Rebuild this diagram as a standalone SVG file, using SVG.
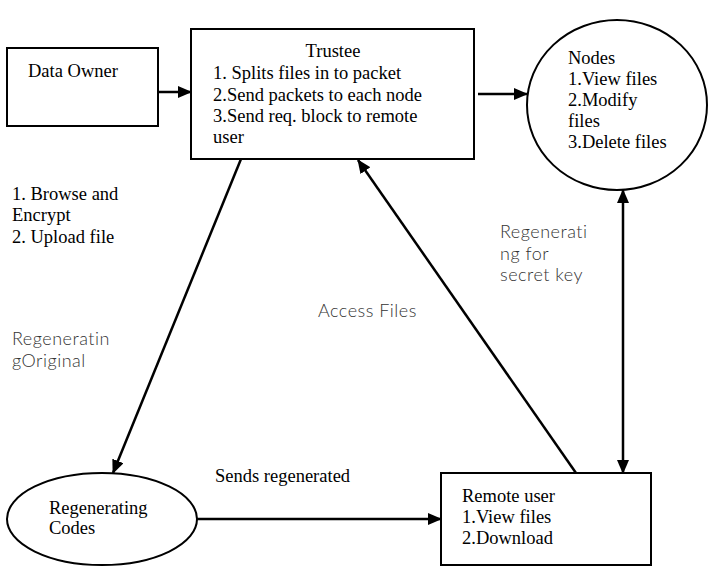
<svg xmlns="http://www.w3.org/2000/svg" width="710" height="568" viewBox="0 0 710 568">
<style>
.box{fill:#fff;stroke:#000;stroke-width:2}
.t{font-family:"Liberation Serif","Times New Roman",serif;font-size:18.5px;fill:#000}
.s{font-family:Lato,"Liberation Sans",sans-serif;font-weight:300;font-size:18px;letter-spacing:0.5px;fill:#333}
.c{stroke:#000;stroke-width:2.5;fill:none}
</style>
<defs>
<marker id="ah" markerUnits="userSpaceOnUse" markerWidth="14" markerHeight="12" refX="13" refY="6" orient="auto-start-reverse">
<path d="M0,0 L14,6 L0,12 z" fill="#000"/>
</marker>
</defs>
<rect width="710" height="568" fill="#fff"/>
<g id="connectors">
<line class="c" x1="158" y1="92" x2="191" y2="92" marker-end="url(#ah)"/>
<line class="c" x1="478" y1="94" x2="527" y2="94" marker-end="url(#ah)"/>
<line class="c" x1="241" y1="159" x2="113" y2="473" marker-end="url(#ah)"/>
<line class="c" x1="576" y1="473" x2="358" y2="160" marker-end="url(#ah)"/>
<line class="c" x1="623" y1="190" x2="623" y2="473" marker-start="url(#ah)" marker-end="url(#ah)"/>
<line class="c" x1="190" y1="519" x2="441" y2="519" marker-end="url(#ah)"/>
</g>
<g id="data-owner">
<rect class="box" x="7" y="48" width="151" height="78"/>
<text class="t" x="28" y="77">Data Owner</text>
</g>
<g id="trustee">
<rect class="box" x="191" y="29" width="283" height="130"/>
<text class="t" x="333" y="57" text-anchor="middle">Trustee</text>
<text class="t" x="213" y="79">1. Splits files in to packet</text>
<text class="t" x="213" y="101">2.Send packets to each node</text>
<text class="t" x="213" y="122">3.Send req. block to remote</text>
<text class="t" x="213" y="143">user</text>
</g>
<g id="nodes">
<ellipse class="box" cx="617" cy="105" rx="90" ry="85"/>
<text class="t" x="568" y="64">Nodes</text>
<text class="t" x="568" y="85">1.View files</text>
<text class="t" x="568" y="106">2.Modify</text>
<text class="t" x="568" y="127">files</text>
<text class="t" x="568" y="148">3.Delete files</text>
</g>
<g id="regenerating-codes">
<ellipse class="box" cx="102" cy="519" rx="95" ry="46"/>
<text class="t" x="49" y="514">Regenerating</text>
<text class="t" x="49" y="534">Codes</text>
</g>
<g id="remote-user">
<rect class="box" x="441" y="473" width="210" height="92"/>
<text class="t" x="462" y="502">Remote user</text>
<text class="t" x="462" y="523">1.View files</text>
<text class="t" x="462" y="544">2.Download</text>
</g>
<g id="labels">
<text class="t" x="12" y="200">1. Browse and</text>
<text class="t" x="12" y="221">Encrypt</text>
<text class="t" x="12" y="243">2. Upload file</text>
<text class="s" x="12" y="345">Regeneratin</text>
<text class="s" x="12" y="367">gOriginal</text>
<text class="s" x="500" y="238">Regenerati</text>
<text class="s" x="500" y="260">ng for</text>
<text class="s" x="500" y="281">secret key</text>
<text class="s" x="318" y="317">Access Files</text>
<text class="t" x="215" y="482">Sends regenerated</text>
</g>
</svg>
